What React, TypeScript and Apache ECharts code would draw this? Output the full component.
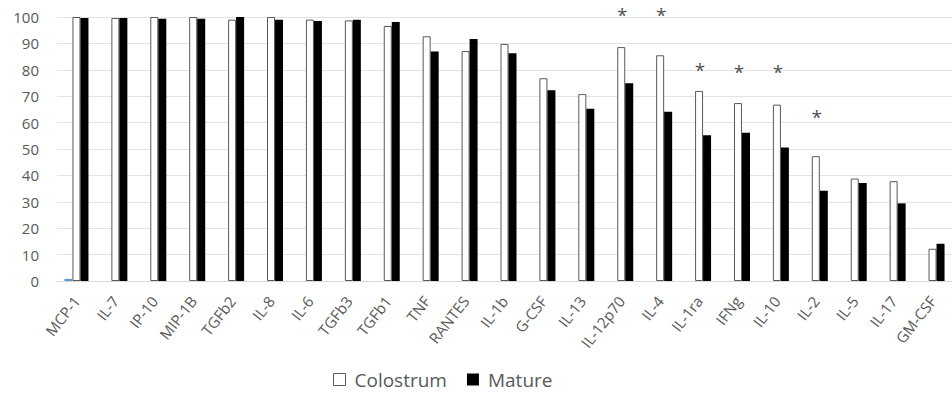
import React, { useEffect, useRef } from "react";
import * as echarts from "echarts";

const categories = [
  "MCP-1", "IL-7", "IP-10", "MIP-1B", "TGFb2", "IL-8", "IL-6", "TGFb3", "TGFb1", "TNF",
  "RANTES", "IL-1b", "G-CSF", "IL-13", "IL-12p70", "IL-4", "IL-1ra", "IFNg", "IL-10",
  "IL-2", "IL-5", "IL-17", "GM-CSF",
];
const colostrum = [100, 99.6, 100, 100, 99, 100, 99, 98.7, 96.6, 92.7, 87.1, 89.8, 76.8, 70.8, 88.6, 85.5, 72.0, 67.4, 66.8, 47.3, 38.8, 37.8, 12.2];
const mature = [99.6, 99.6, 99.3, 99.3, 100, 99, 98.5, 99.0, 98.1, 86.9, 91.7, 86.3, 72.3, 65.2, 74.9, 64.1, 55.2, 56.2, 50.6, 34.2, 37.1, 29.4, 14.1];
const stray = [0.8, null, null, null, null, null, null, null, null, null, null, null, null, null, null, null, null, null, null, null, null, null, null];
const significance = [null, null, null, null, null, null, null, null, null, null, null, null, null, null, 101.8, 101.8, 81.2, 80.3, 80.3, 63.1, null, null, null];
const yTicks = { min: 0, max: 100, interval: 10 };

export default function App() {
  const ref = useRef<HTMLDivElement>(null);
  useEffect(() => {
    const chart = echarts.init(ref.current!, null, { renderer: "svg" });
    const font = "'Open Sans', 'Liberation Sans', sans-serif";
    chart.setOption({
      animation: false,
      backgroundColor: "#ffffff",
      grid: { left: 57, right: -8, top: 17, bottom: 114, containLabel: false },
      legend: {
        data: [
          { name: "Colostrum", itemStyle: { color: "#ffffff", borderColor: "#595959", borderWidth: 1 } },
          { name: "Mature", itemStyle: { color: "#000000" } },
        ],
        left: 328,
        top: 365,
        icon: "rect",
        itemWidth: 12,
        itemHeight: 12,
        itemGap: 20,
        textStyle: { color: "#595959", fontSize: 19, fontFamily: font, padding: [0, 0, 0, 4] },
      },
      xAxis: {
        type: "category",
        data: categories,
        axisLine: { lineStyle: { color: "#d9d9d9" } },
        axisTick: { show: false },
        axisLabel: { rotate: 52, color: "#595959", fontSize: 15, fontFamily: font, interval: 0, margin: 17, hideOverlap: false },
      },
      yAxis: {
        type: "value",
        min: yTicks.min,
        max: yTicks.max,
        interval: yTicks.interval,
        axisLine: { show: false },
        axisTick: { show: false },
        splitLine: { lineStyle: { color: "#e3e3e3" } },
        axisLabel: { color: "#595959", fontSize: 15, fontFamily: font, margin: 18 },
      },
      series: [
        {
          name: "Stray",
          type: "bar",
          data: stray,
          barWidth: 8,
          barGap: "0%",
          itemStyle: { color: "#5b9bd5" },
        },
        {
          name: "Colostrum",
          type: "bar",
          data: colostrum,
          barWidth: 8,
          barGap: "0%",
          itemStyle: { color: "#ffffff", borderColor: "#595959", borderWidth: 1 },
        },
        {
          name: "Mature",
          type: "bar",
          data: mature,
          barWidth: 8,
          barGap: "0%",
          itemStyle: { color: "#000000" },
        },
        {
          name: "Significance",
          type: "scatter",
          data: significance,
          symbolSize: 0,
          clip: false,
          silent: true,
          label: {
            show: true,
            formatter: "*",
            position: "inside",
            offset: [1, 3],
            color: "#1a1a1a",
            fontSize: 19,
            fontFamily: font,
          },
        },
      ],
    });
    return () => chart.dispose();
  }, []);
  return <div ref={ref} style={{ width: 952, height: 395, position: "absolute", left: 0, top: 0 }} />;
}
